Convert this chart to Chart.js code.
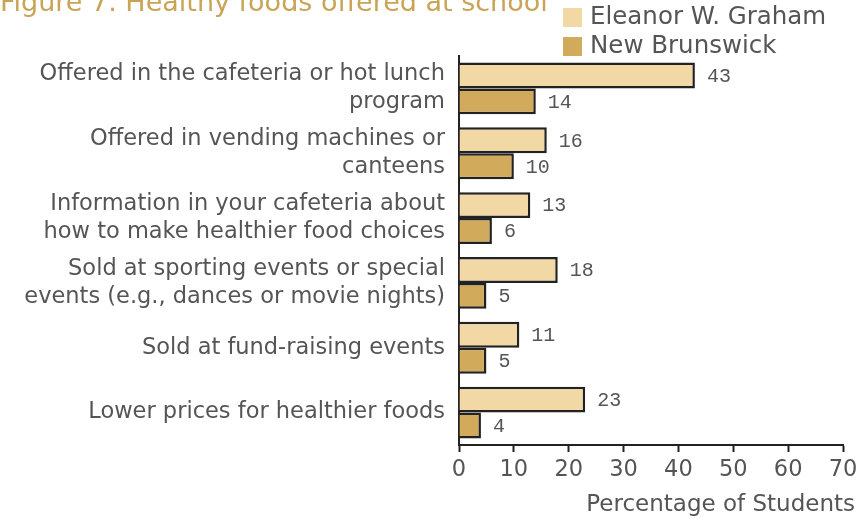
<!DOCTYPE html>
<html>
<head>
<meta charset="utf-8">
<script src="https://cdn.jsdelivr.net/npm/chart.js@4"></script>
<style>
  html, body { margin: 0; padding: 0; background: #fff; }
  #wrap { width: 864px; height: 519px; position: relative; }
</style>
</head>
<body>
<div id="wrap"><canvas id="chart"></canvas></div>
<script>
// Datos
const categories = [
    ['Offered in the cafeteria or hot lunch', 'program'],
    ['Offered in vending machines or', 'canteens'],
    ['Information in your cafeteria about', 'how to make healthier food choices'],
    ['Sold at sporting events or special', 'events (e.g., dances or movie nights)'],
    'Sold at fund-raising events',
    'Lower prices for healthier foods'
];
const seriesNames = ['Eleanor W. Graham', 'New Brunswick'];
const schoolValues = [43, 16, 13, 18, 11, 23];
const provinceValues = [14, 10, 6, 5, 5, 4];
const xTicks = [0, 10, 20, 30, 40, 50, 60, 70];

const fillColors = ['#f2d8a5', '#d2aa5c'];
const labelFont = '"Century Gothic", "DejaVu Sans", sans-serif';

// Título cortado arriba, leyenda vertical, título del eje y valores
const extrasPlugin = {
    id: 'extras',
    afterDraw(chart) {
        const ctx = chart.ctx;
        ctx.save();
        ctx.fillStyle = '#c9a456';
        ctx.font = '27px ' + labelFont;
        ctx.textAlign = 'left';
        ctx.textBaseline = 'alphabetic';
        ctx.fillText('Figure 7. Healthy foods offered at school', 0, 11);

        seriesNames.forEach((name, i) => {
            const y = 8 + i * 29;
            ctx.fillStyle = fillColors[i];
            ctx.fillRect(563, y, 19, 19);
            ctx.fillStyle = '#555';
            ctx.font = '24.5px ' + labelFont;
            ctx.textBaseline = 'middle';
            ctx.fillText(name, 590, y + 10);
        });

        // título del eje x (sobresale a la derecha del área)
        ctx.font = '23px ' + labelFont;
        ctx.textAlign = 'right';
        ctx.fillStyle = '#555';
        ctx.fillText('Percentage of Students', 855, 505);

        // valores junto a cada barra
        ctx.font = '20px "Liberation Mono", "Courier New", monospace';
        ctx.textAlign = 'left';
        ctx.fillStyle = '#555';
        ctx.textBaseline = 'middle';
        chart.data.datasets.forEach((ds, di) => {
            const meta = chart.getDatasetMeta(di);
            meta.data.forEach((bar, i) => {
                ctx.fillText(String(ds.data[i]), bar.x + 12, bar.y + 1);
            });
        });
        ctx.restore();
    }
};

new Chart(document.getElementById('chart'), {
    type: 'bar',
    data: {
        labels: categories,
        datasets: [{
            label: seriesNames[0],
            data: schoolValues,
            backgroundColor: fillColors[0],
            borderColor: '#222',
            borderWidth: 2.5,
            categoryPercentage: 0.8,
            barPercentage: 1.0
        }, {
            label: seriesNames[1],
            data: provinceValues,
            backgroundColor: fillColors[1],
            borderColor: '#222',
            borderWidth: 2.5,
            categoryPercentage: 0.8,
            barPercentage: 1.0
        }]
    },
    options: {
        indexAxis: 'y',
        responsive: true,
        maintainAspectRatio: false,
        animation: false,
        layout: { padding: { top: 56, right: 21, left: 0, bottom: 30 } },
        plugins: {
            legend: { display: false },
            tooltip: { enabled: false }
        },
        scales: {
            x: {
                min: 0,
                max: 70,
                afterBuildTicks: (scale) => { scale.ticks = xTicks.map(v => ({ value: v })); },
                grid: { display: true, drawOnChartArea: false, drawTicks: true, tickLength: 7, color: '#222', tickColor: '#222', tickWidth: 2 },
                border: { color: '#222', width: 2 },
                ticks: { color: '#555', font: { family: labelFont, size: 22.5 }, padding: 5, maxRotation: 0 }
            },
            y: {
                afterFit: (scale) => { scale.width = 459; },
                grid: { display: false, drawTicks: false },
                border: { color: '#222', width: 2 },
                ticks: {
                    color: '#555',
                    font: { family: labelFont, size: 22.5, lineHeight: 1.25 },
                    padding: 14
                }
            }
        }
    },
    plugins: [extrasPlugin]
});
</script>
</body>
</html>
